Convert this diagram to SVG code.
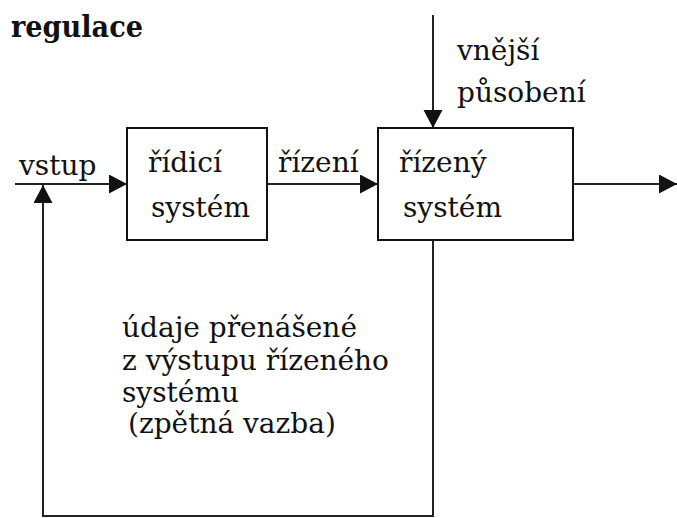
<svg xmlns="http://www.w3.org/2000/svg" width="677" height="518" viewBox="0 0 677 518">
  <style>
    .t { font-family: "DejaVu Serif", "Liberation Serif", serif; font-size: 28px; fill: #111; }
    .title { font-family: "DejaVu Serif", "Liberation Serif", serif; font-size: 30px; font-weight: bold; fill: #111; }
    .box { fill: #fff; stroke: #111; stroke-width: 2; }
    .ln { fill: none; stroke: #222; stroke-width: 2; }
  </style>
  <defs>
    <marker id="arr" markerUnits="userSpaceOnUse" markerWidth="19" markerHeight="20" refX="18" refY="9.5" orient="auto">
      <path d="M0,0 L18,9.5 L0,19 z" fill="#111"/>
    </marker>
  </defs>
  <rect width="677" height="518" fill="#fff"/>
  <text class="title" x="11" y="37" textLength="132" lengthAdjust="spacingAndGlyphs">regulace</text>
  <g id="connectors">
    <path class="ln" d="M15,184 H127" marker-end="url(#arr)"/>
    <path class="ln" d="M267,184 H378" marker-end="url(#arr)"/>
    <path class="ln" d="M573,184 H677" marker-end="url(#arr)"/>
    <path class="ln" d="M433,15 V128" marker-end="url(#arr)"/>
    <path class="ln" d="M433,240 V516 H43 V185" marker-end="url(#arr)"/>
  </g>
  <g id="ridici">
    <rect class="box" x="127" y="128" width="140" height="112"/>
    <text class="t" x="148" y="172">řídicí</text>
    <text class="t" x="151" y="217">systém</text>
  </g>
  <g id="rizeny">
    <rect class="box" x="378" y="128" width="195" height="112"/>
    <text class="t" x="399" y="172">řízený</text>
    <text class="t" x="403" y="217">systém</text>
  </g>
  <g id="labels">
    <text class="t" x="19" y="175">vstup</text>
    <text class="t" x="278" y="172">řízení</text>
    <text class="t" x="457" y="60">vnější</text>
    <text class="t" x="457" y="102">působení</text>
    <text class="t" x="122" y="337">údaje přenášené</text>
    <text class="t" x="122" y="370">z výstupu řízeného</text>
    <text class="t" x="122" y="402">systému</text>
    <text class="t" x="128" y="433">(zpětná vazba)</text>
  </g>
</svg>
